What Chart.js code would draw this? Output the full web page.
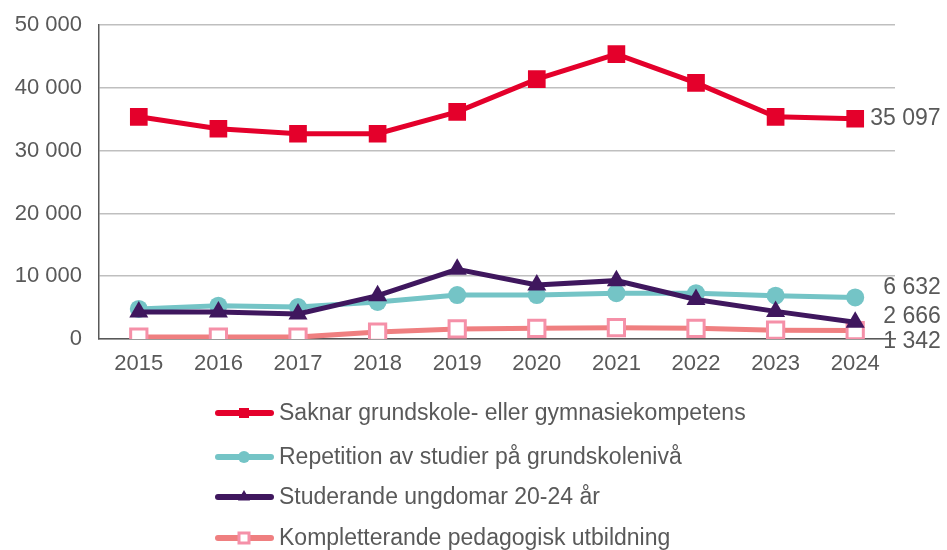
<!DOCTYPE html>
<html>
<head>
<meta charset="utf-8">
<script src="https://cdn.jsdelivr.net/npm/chart.js@4"></script>
<style>
  html, body { margin: 0; padding: 0; background: #fff; overflow: hidden; }
  #wrap { width: 947px; height: 550px; overflow: hidden; }
  #chart { display: block; margin-top: -5px; }
</style>
</head>
<body>
<div id="wrap"><canvas id="chart" width="947" height="555"></canvas></div>
<script>
// data
const years = ['2015', '2016', '2017', '2018', '2019', '2020', '2021', '2022', '2023', '2024'];
const saknar = [35400, 33500, 32700, 32700, 36200, 41400, 45400, 40800, 35400, 35097];
const repetition = [4800, 5300, 5100, 5900, 7000, 7000, 7300, 7300, 6900, 6632];
const studerande = [4300, 4300, 4000, 6900, 11100, 8600, 9300, 6300, 4400, 2666];
const kompletterande = [300, 300, 300, 1100, 1600, 1700, 1800, 1700, 1400, 1342];
const seriesNames = [
  'Saknar grundskole- eller gymnasiekompetens',
  'Repetition av studier på grundskolenivå',
  'Studerande ungdomar 20-24 år',
  'Kompletterande pedagogisk utbildning'
];

const grey = '#595959';
const font = '"Liberation Sans", Arial, sans-serif';

function fmt(v) {
  return String(v).replace(/\B(?=(\d{3})+(?!\d))/g, ' ');
}

// value labels at the end of each line (offsets from last point)
const endLabelShift = [[15, 0], [28, -10], [28, -6], [28, 11]];

const endLabels = {
  id: 'endLabels',
  afterDatasetsDraw(chart) {
    const ctx = chart.ctx;
    ctx.save();
    ctx.fillStyle = grey;
    ctx.textBaseline = 'middle';
    ctx.textAlign = 'left';
    ctx.font = '23px ' + font;
    chart.data.datasets.forEach((ds, i) => {
      const meta = chart.getDatasetMeta(i);
      const pt = meta.data[meta.data.length - 1];
      ctx.fillText(fmt(ds.data[ds.data.length - 1]), pt.x + endLabelShift[i][0], pt.y + endLabelShift[i][1]);
    });
    ctx.restore();
  }
};

// legend below the chart: line with marker in the middle (canvas is shifted up 5px)
const lineLegend = {
  id: 'lineLegend',
  afterDraw(chart) {
    const ctx = chart.ctx;
    const rows = [418, 462, 502, 543];
    ctx.save();
    chart.data.datasets.forEach((ds, i) => {
      const y = rows[i];
      ctx.strokeStyle = ds.borderColor;
      ctx.lineWidth = 6;
      ctx.lineCap = 'round';
      ctx.beginPath();
      ctx.moveTo(218, y);
      ctx.lineTo(271, y);
      ctx.stroke();
      ctx.fillStyle = ds.pointBackgroundColor;
      ctx.strokeStyle = ds.pointBorderColor;
      ctx.lineWidth = ds.pointBorderWidth;
      ctx.beginPath();
      const r = ds.legendRadius;
      if (ds.pointStyle === 'circle') {
        ctx.arc(244, y, r, 0, Math.PI * 2);
      } else if (ds.pointStyle === 'triangle') {
        ctx.moveTo(244, y - r);
        ctx.lineTo(244 + r * 0.866, y + r * 0.5);
        ctx.lineTo(244 - r * 0.866, y + r * 0.5);
        ctx.closePath();
      } else {
        ctx.rect(244 - r, y - r, 2 * r, 2 * r);
      }
      ctx.fill();
      if (ds.pointBorderWidth) ctx.stroke();
      ctx.fillStyle = grey;
      ctx.font = '23px ' + font;
      ctx.textBaseline = 'middle';
      ctx.fillText(ds.label, 279, y + 1);
    });
    ctx.restore();
  }
};

new Chart(document.getElementById('chart'), {
  type: 'line',
  data: {
    labels: years,
    datasets: [{
      label: seriesNames[0],
      data: saknar,
      borderColor: '#E4002B',
      backgroundColor: '#E4002B',
      pointBackgroundColor: '#E4002B',
      pointBorderColor: '#E4002B',
      pointBorderWidth: 0,
      borderWidth: 5,
      pointStyle: 'rect',
      pointRadius: 12.5,
      legendRadius: 5,
      order: 0
    }, {
      label: seriesNames[1],
      data: repetition,
      borderColor: '#74C4C6',
      backgroundColor: '#74C4C6',
      pointBackgroundColor: '#74C4C6',
      pointBorderColor: '#74C4C6',
      pointBorderWidth: 0,
      borderWidth: 5,
      pointStyle: 'circle',
      pointRadius: 9,
      legendRadius: 6,
      order: 2
    }, {
      label: seriesNames[2],
      data: studerande,
      borderColor: '#3F175E',
      backgroundColor: '#3F175E',
      pointBackgroundColor: '#3F175E',
      pointBorderColor: '#3F175E',
      pointBorderWidth: 0,
      borderWidth: 5,
      pointStyle: 'triangle',
      pointRadius: 11,
      legendRadius: 7,
      order: 1
    }, {
      label: seriesNames[3],
      data: kompletterande,
      borderColor: '#EF7F80',
      backgroundColor: '#ffffff',
      pointBackgroundColor: '#ffffff',
      pointBorderColor: '#F590A8',
      pointBorderWidth: 3,
      borderWidth: 5,
      pointStyle: 'rect',
      pointRadius: 11.5,
      legendRadius: 5,
      order: 3
    }]
  },
  options: {
    responsive: false,
    animation: false,
    layout: { padding: { top: 9, right: 52, bottom: 171, left: 0 } },
    plugins: {
      legend: { display: false },
      tooltip: { enabled: false }
    },
    elements: { line: { tension: 0 } },
    scales: {
      x: {
        offset: true,
        grid: { display: false, drawTicks: false },
        border: { display: true, color: grey, width: 1.5 },
        ticks: { color: grey, font: { family: font, size: 22 }, padding: 12 },
        afterFit(scale) { scale.height = 40; }
      },
      y: {
        min: 0,
        max: 50000,
        grid: { color: '#BFBFBF', lineWidth: 1.5, drawTicks: false },
        border: { display: true, color: grey, width: 1.5 },
        ticks: {
          stepSize: 10000,
          color: grey,
          font: { family: font, size: 22 },
          padding: 17,
          callback: (v) => fmt(v)
        },
        afterFit(scale) { scale.width = 99; }
      }
    }
  },
  plugins: [endLabels, lineLegend]
});
</script>
</body>
</html>
